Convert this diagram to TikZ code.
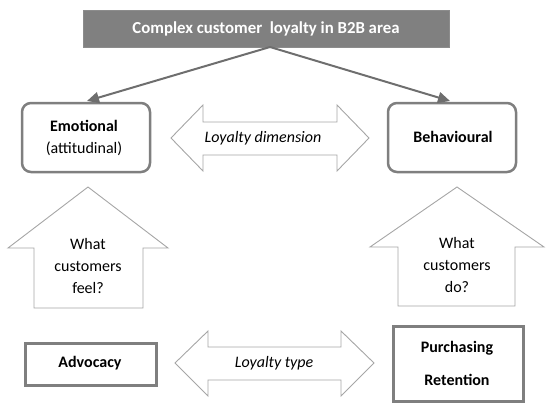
\documentclass[tikz,border=0pt]{standalone}
\usepackage{fontspec}
\setmainfont{Carlito}
\usetikzlibrary{arrows.meta}
\definecolor{boxgray}{HTML}{7F7F7F}
\definecolor{titlegray}{HTML}{808080}
\definecolor{linegray}{HTML}{6E6E6E}
\definecolor{blockgray}{HTML}{A6A6A6}
\begin{document}
\begin{tikzpicture}[x=1pt,y=-1pt,
  roundbox/.style={draw=boxgray,line width=2.5pt,rounded corners=9pt,fill=white},
  squarebox/.style={draw=boxgray,line width=3pt,fill=white},
  blockarrow/.style={draw=blockgray,line width=0.9pt,fill=white,line join=miter},
  lbl/.style={font=\fontsize{16}{22}\selectfont,align=center,inner sep=0pt},
  blbl/.style={font=\fontsize{16}{22}\selectfont\bfseries,align=center,inner sep=0pt},
  conn/.style={draw=linegray,line width=2pt,-{Triangle[length=12pt,width=11pt]}}]
\useasboundingbox (0,0) rectangle (550,408);
% title
\node[fill=titlegray,draw=boxgray!90,line width=0.8pt,minimum width=366pt,minimum height=37pt,inner sep=0pt,
  text=white,font=\fontsize{16.8}{19}\selectfont\bfseries] (top) at (266,28.5) {Complex customer\ \ loyalty in B2B area};
% boxes
\node[roundbox,minimum width=128pt,minimum height=69pt,inner sep=0pt] (emo) at (86,137.5) {};
\node[lbl,anchor=center] (emot) at (84,126) {\bfseries Emotional};
\node[lbl,anchor=center] (emoa) at (84,149) {(attitudinal)};
\node[roundbox,minimum width=128pt,minimum height=69pt,inner sep=0pt] (beh) at (452,137.5) {};
\node[blbl] (beht) at (453,137) {Behavioural};
\coordinate (start) at (270,47);
\coordinate (ltip) at (87,101);
\coordinate (rtip) at (450,101);
\draw[conn] (start) -- (ltip);
\draw[conn] (start) -- (rtip);
% loyalty dimension double arrow
\draw[blockarrow] (171,138) -- (203,105) -- (203,122) -- (337,122) -- (337,105) -- (369,138)
  -- (337,171) -- (337,155) -- (203,155) -- (203,171) -- cycle;
\node[lbl,font=\fontsize{16}{18}\selectfont\itshape] (dim) at (263,138) {Loyalty dimension};
% up arrows
\draw[blockarrow] (88,187) -- (168,248) -- (143,248) -- (143,308) -- (34,308) -- (34,248) -- (8,248) -- cycle;
\node[lbl] (feel) at (88,266) {What\\customers\\feel?};
\draw[blockarrow] (457,187) -- (544,247) -- (515,247) -- (515,306) -- (398,306) -- (398,247) -- (370,247) -- cycle;
\node[lbl] (do) at (457,265) {What\\customers\\do?};
% bottom boxes
\node[squarebox,minimum width=131pt,minimum height=42pt,inner sep=0pt] (adv) at (90.5,364) {};
\node[blbl] (advt) at (90,363) {Advocacy};
\node[squarebox,minimum width=130pt,minimum height=75pt,inner sep=0pt] (pur) at (458,363.5) {};
\node[blbl,font=\fontsize{16}{33}\selectfont\bfseries] (purt) at (457,363.5) {Purchasing\\Retention};
% loyalty type double arrow
\draw[blockarrow] (175,363) -- (208,331) -- (208,347) -- (341,347) -- (341,331) -- (374,363)
  -- (341,396) -- (341,380) -- (208,380) -- (208,396) -- cycle;
\node[lbl,font=\fontsize{16}{18}\selectfont\itshape] (typ) at (274,363) {Loyalty type};
\end{tikzpicture}
\end{document}
